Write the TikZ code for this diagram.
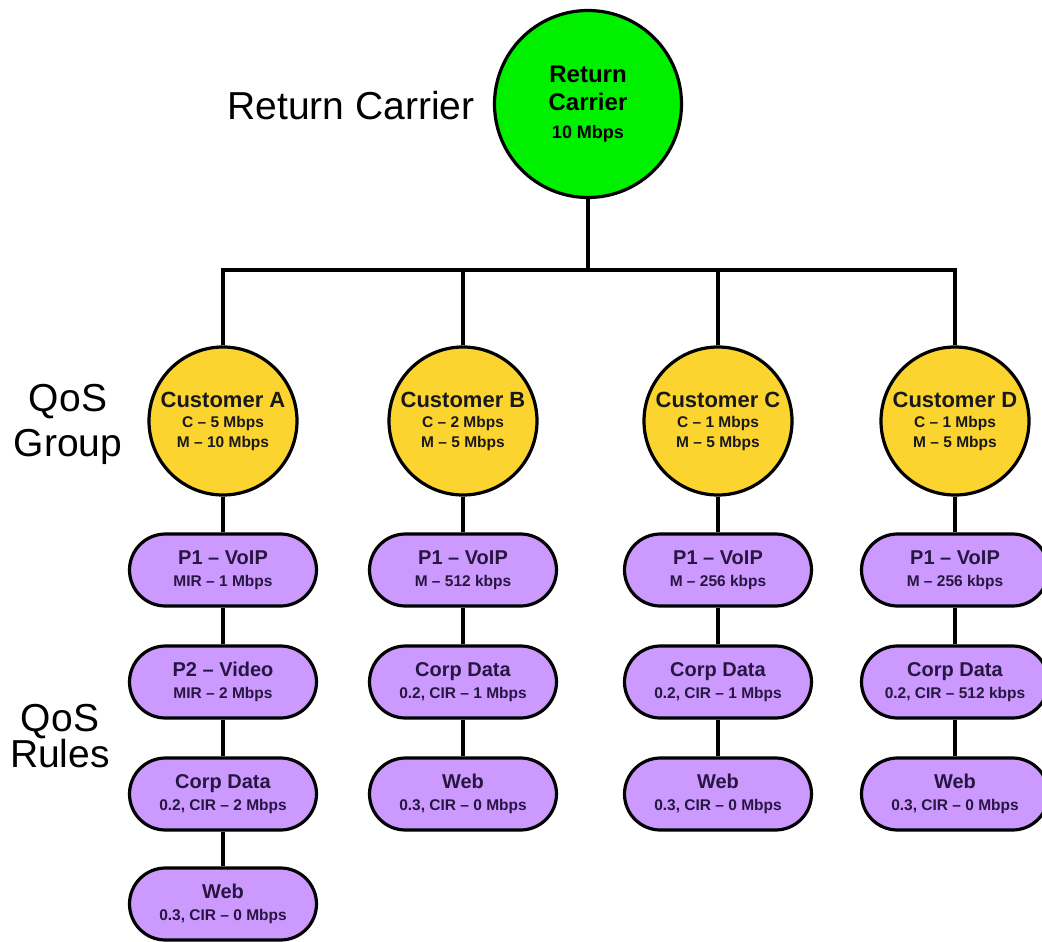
\documentclass[tikz,border=0pt]{standalone}
\usepackage{fontspec}
\setmainfont{Liberation Sans}
\definecolor{qosgreen}{RGB}{0,240,0}
\definecolor{qosgold}{RGB}{252,212,48}
\definecolor{qospurple}{RGB}{204,153,255}
\definecolor{qostext}{RGB}{40,22,66}
\begin{document}
\begin{tikzpicture}[
   x=1pt,y=-1pt,
   qoscarrier/.style={circle,draw,line width=3.2pt,fill=qosgreen,minimum size=187pt,
     inner sep=0pt,align=center,font=\bfseries\fontsize{18}{28}\selectfont},
   qosgroup/.style={circle,draw,line width=3.2pt,fill=qosgold,minimum size=148pt,
     inner sep=0pt,align=center,text=black!90,font=\bfseries\fontsize{15.5}{20}\selectfont},
   qosrule/.style={draw,line width=3.2pt,fill=qospurple,rounded corners=36pt,
     minimum width=187pt,minimum height=72pt,inner sep=0pt,align=center,
     text=qostext,font=\bfseries\fontsize{15.5}{22}\selectfont},
   qoslabel/.style={inner sep=0pt,align=center,font=\fontsize{39}{45}\selectfont},
   qoslink/.style={line width=3.2pt}
 ]
 \useasboundingbox (0,0) rectangle (1042,942);
 \node[qoscarrier] (rc) at (588,104)
   {{\fontsize{24}{28}\selectfont Return}\\{\fontsize{24}{28}\selectfont Carrier}\\10 Mbps};
 \coordinate (bus) at (588,270);
 \foreach \name/\x/\cust/\cir/\mir in {ca/223/A/5/10,cb/463/B/2/5,cc/718/C/1/5,cd/955/D/1/5} {
   \node[qosgroup] (\name) at (\x,421)
     {{\fontsize{22}{20}\selectfont Customer \cust}\\C – \cir\ Mbps\\M – \mir\ Mbps};
 }
 % Rule boxes: title, then rate line.
 \foreach \name/\x/\y/\title/\rate in {
   a1/223/570/{P1 – VoIP}/{MIR – 1 Mbps},a2/223/682/{P2 – Video}/{MIR – 2 Mbps},
   a3/223/794/{Corp Data}/{0.2, CIR – 2 Mbps},a4/223/904/{Web}/{0.3, CIR – 0 Mbps},
   b1/463/570/{P1 – VoIP}/{M – 512 kbps},b2/463/682/{Corp Data}/{0.2, CIR – 1 Mbps},
   b3/463/794/{Web}/{0.3, CIR – 0 Mbps},
   c1/718/570/{P1 – VoIP}/{M – 256 kbps},c2/718/682/{Corp Data}/{0.2, CIR – 1 Mbps},
   c3/718/794/{Web}/{0.3, CIR – 0 Mbps},
   d1/955/570/{P1 – VoIP}/{M – 256 kbps},d2/955/682/{Corp Data}/{0.2, CIR – 512 kbps},
   d3/955/794/{Web}/{0.3, CIR – 0 Mbps}} {
   \node[qosrule] (\name) at (\x,\y) {{\fontsize{20}{22}\selectfont \title}\\\rate};
 }
 \draw[qoslink] (rc) -- (bus);
 \foreach \name in {ca,cb,cc,cd} {
   \draw[qoslink] (bus) -| (\name);
 }
 \foreach \from/\to in {ca/a1,a1/a2,a2/a3,a3/a4,cb/b1,b1/b2,b2/b3,
   cc/c1,c1/c2,c2/c3,cd/d1,d1/d2,d2/d3} {
   \draw[qoslink] (\from) -- (\to);
 }
 \node[qoslabel,anchor=base] (lcarrier) at (351,119) {Return Carrier};
 \node[qoslabel] (lgroup) at (68,424) {QoS\\Group};
 \node[qoslabel,font=\fontsize{39}{35}\selectfont] (lrules) at (60,736) {QoS\\Rules};
\end{tikzpicture}
\end{document}
